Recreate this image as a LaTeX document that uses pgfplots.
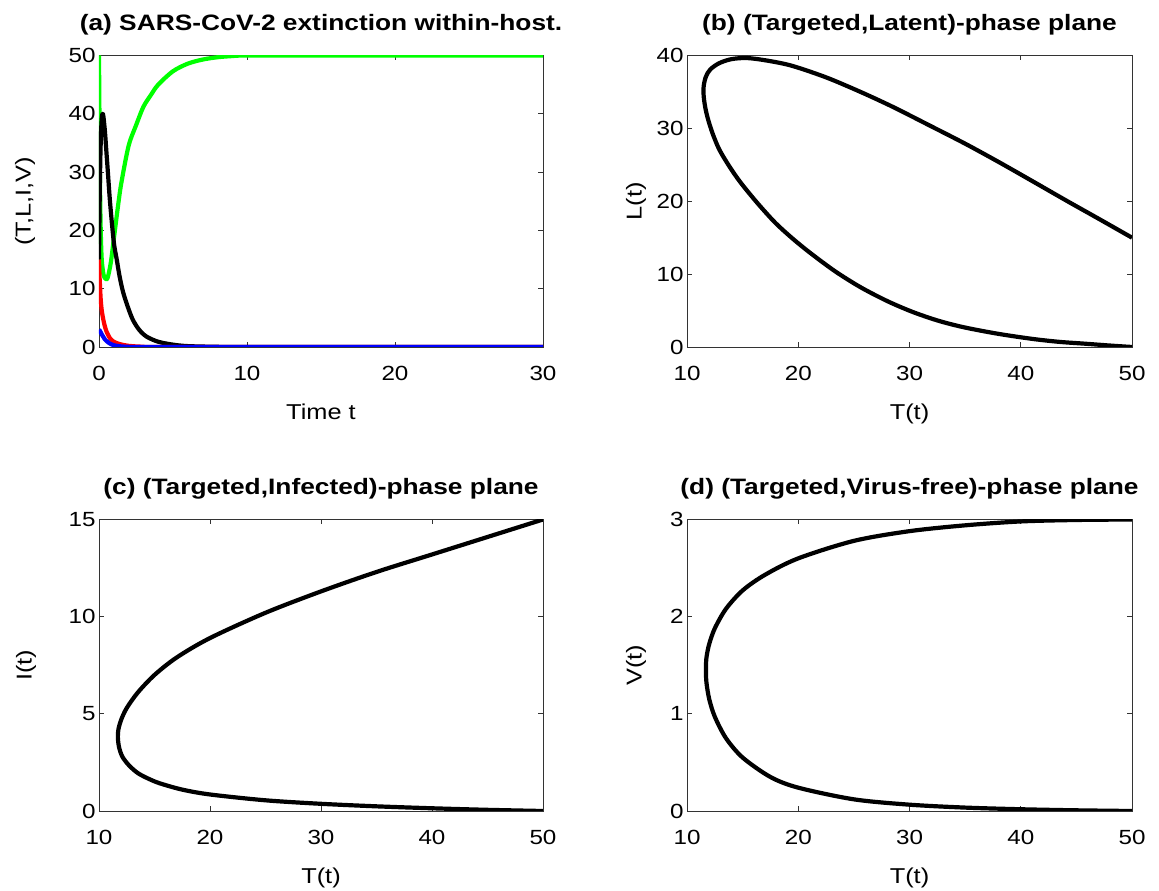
\documentclass[border=0pt]{standalone}
\usepackage{pgfplots}
\pgfplotsset{compat=1.18}
\usepackage{fontspec}
\setmainfont[FakeStretch=1.18]{Liberation Sans}

\pgfplotsset{panel/.style={
  scale only axis, width=444pt, height=291.5pt, anchor=south west,
  axis line style={black!80, line width=0.8pt},
  tick style={black!80, line width=0.8pt},
  tick align=inside, major tick length=5pt,
  minor tick num=0,
  /pgf/number format/assume math mode=true,
  tick label style={font=\fontsize{20.5}{20.5}\selectfont},
  label style={font=\fontsize{21.5}{21.5}\selectfont},
  title style={font=\bfseries\fontsize{22.3}{22.3}\selectfont, yshift=11pt},
  xticklabel style={yshift=-16pt},
  xlabel style={yshift=-16.5pt},
  every axis plot/.append style={line width=4.2pt, line join=round, mark=none, smooth, tension=0.5},
}}

\begin{document}
\begin{tikzpicture}
\useasboundingbox (0pt,0pt) rectangle (1159pt,891pt);

% (a)
\begin{axis}[panel, at={(99pt,544pt)},
  xmin=0, xmax=30, ymin=0, ymax=50,
  xtick={0,10,20,30}, ytick={0,10,20,30,40,50},
  title={(a) SARS-CoV-2 extinction within-host.},
  xlabel={Time t}, ylabel={(T,L,I,V)},
  ylabel style={at={([xshift=-74pt]axis description cs:0,0.5)}, anchor=center}]
\addplot[color={rgb,1:red,0;green,1;blue,0}] coordinates {
(0,50) (0.03,40) (0.06,30) (0.1,22) (0.15,17) (0.2,14.5) (0.3,12.5) (0.4,11.8)
(0.5,11.6) (0.6,12.0) (0.8,14.5) (1.0,18.5) (1.25,23.5) (1.5,28) (2,34.5)
(2.5,38) (3,41.2) (3.5,43.2) (4,45) (5,47.3) (6,48.6) (7,49.3) (8,49.7)
(9,49.9) (10,50) (15,50) (30,50)};
\addplot[color=black] coordinates {
(0,15) (0.03,22) (0.06,28) (0.1,33.5) (0.15,37.5) (0.2,39.5) (0.25,40)
(0.3,39.5) (0.4,37) (0.5,33.5) (0.6,30) (0.75,24.7) (1.0,18) (1.2,15)
(1.4,12) (1.64,9.3) (2,6.5) (2.3,4.6) (2.7,3) (3.2,1.8) (4,0.9) (5,0.4)
(6,0.15) (8,0.03) (10,0) (30,0)};
\addplot[color={rgb,1:red,1;green,0;blue,0}] coordinates {
(0,15) (0.03,12.5) (0.07,10.4) (0.12,8) (0.2,6) (0.3,4.6) (0.4,3.5)
(0.5,2.7) (0.74,1.5) (1.0,0.9) (1.4,0.5) (2,0.2) (3,0.05) (5,0) (30,0)};
\addplot[color={rgb,1:red,0;green,0;blue,1}] coordinates {
(0,3) (0.1,2.6) (0.2,2.1) (0.3,1.7) (0.4,1.3) (0.5,1.05) (0.7,0.65)
(1.0,0.3) (1.5,0.1) (2,0.04) (3,0) (30,0)};
\end{axis}

% (b)
\begin{axis}[panel, at={(687pt,544pt)}, width=445pt,
  xmin=10, xmax=50, ymin=0, ymax=40,
  xtick={10,20,30,40,50}, ytick={0,10,20,30,40},
  title={(b) (Targeted,Latent)-phase plane},
  xlabel={T(t)}, ylabel={L(t)},
  ylabel style={at={([xshift=-51pt]axis description cs:0,0.5)}, anchor=center}]
\addplot[color=black] coordinates {
(50,15.0) (47,17.6) (44.2,20.0) (41,22.8) (38,25.4) (35,27.9) (31.8,30.4)
(28.5,32.95) (25.6,35.0) (22.5,37.0) (19.4,38.6) (17.2,39.3) (15.4,39.65)
(14,39.5) (12.9,38.95) (12.1,38.1) (11.7,37.1) (11.5,35.8) (11.5,34.4)
(11.65,32.8) (11.9,31.2) (12.3,29.3) (12.9,27.1) (13.8,24.8) (14.8,22.6)
(16.3,19.8) (17.9,17.1) (19.4,15.0) (21.0,13.0) (23.3,10.4) (25.6,8.2)
(28,6.3) (30.3,4.8) (32.6,3.6) (34.9,2.7) (38,1.8) (41.1,1.1) (43.5,0.7)
(45.8,0.45) (48,0.2) (50,0)};
\end{axis}

% (c)
\begin{axis}[panel, at={(99pt,80pt)},
  xmin=10, xmax=50, ymin=0, ymax=15,
  xtick={10,20,30,40,50}, ytick={0,5,10,15},
  title={(c) (Targeted,Infected)-phase plane},
  xlabel={T(t)}, ylabel={I(t)},
  ylabel style={at={([xshift=-73pt]axis description cs:0,0.5)}, anchor=center}]
\addplot[color=black] coordinates {
(50,15) (45,14.1) (40,13.2) (35,12.3) (30,11.3) (25,10.2) (20,8.9) (17,7.9)
(15,7.0) (13.5,6.1) (12.5,5.3) (12,4.7) (11.75,4.2) (11.7,3.8) (11.8,3.3)
(12.1,2.8) (12.7,2.35) (13.5,1.95) (14.5,1.65) (15.5,1.42) (17.5,1.1)
(20,0.85) (25,0.55) (30,0.37) (35,0.24) (40,0.14) (45,0.06) (50,0)};
\end{axis}

% (d)
\begin{axis}[panel, at={(687pt,80pt)}, width=445pt,
  xmin=10, xmax=50, ymin=0, ymax=3,
  xtick={10,20,30,40,50}, ytick={0,1,2,3},
  title={(d) (Targeted,Virus-free)-phase plane},
  xlabel={T(t)}, ylabel={V(t)},
  ylabel style={at={([xshift=-51pt]axis description cs:0,0.5)}, anchor=center}]
\addplot[color=black] coordinates {
(50,3.0) (45,2.995) (40,2.98) (35,2.94) (30,2.88) (25,2.78) (20,2.6)
(17,2.43) (15,2.27) (13.5,2.08) (12.5,1.88) (12,1.72) (11.75,1.58)
(11.7,1.45) (11.75,1.32) (12,1.15) (12.5,0.97) (13.5,0.75) (15,0.55)
(17.5,0.35) (20,0.24) (25,0.12) (30,0.065) (35,0.035) (40,0.018)
(45,0.007) (50,0)};
\end{axis}
\end{tikzpicture}
\end{document}
